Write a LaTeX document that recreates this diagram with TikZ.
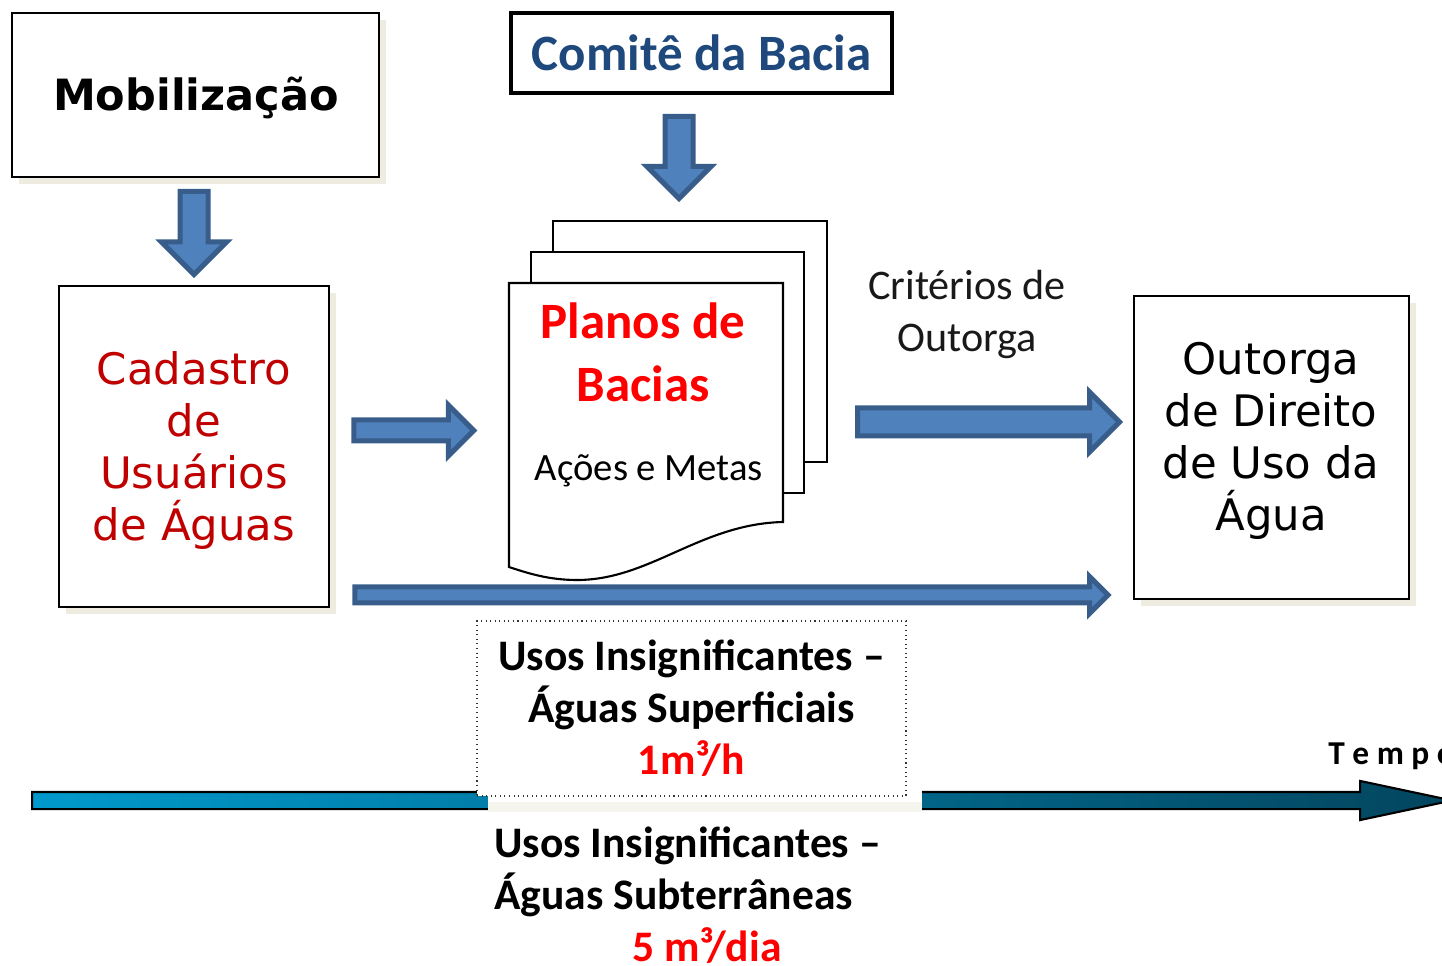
\documentclass[tikz,border=0pt]{standalone}
\usepackage{fontspec}
\setmainfont{Carlito}
\newfontfamily\verd{DejaVu Sans}
\usetikzlibrary{shapes.arrows,shadows}
\definecolor{arrowblue}{HTML}{4F81BD}
\definecolor{arrowedge}{HTML}{385D8A}
\definecolor{shadowbeige}{HTML}{EEECE1}
\definecolor{cadred}{HTML}{C00000}
\definecolor{comblue}{HTML}{1F497D}
\definecolor{timelight}{HTML}{0099CC}
\definecolor{timedark}{HTML}{03455E}

\begin{document}
\begin{tikzpicture}[x=0.2mm,y=-0.2mm,
  box/.style={draw,line width=1.5pt,fill=white,inner sep=0pt},
  shadowbox/.style={box,drop shadow={shadow xshift=1.4mm,shadow yshift=-1.4mm,fill=shadowbeige,opacity=1}},
  blockarrow/.style={single arrow,draw=arrowedge,fill=arrowblue,line width=1mm,inner xsep=0pt,minimum width=0pt,single arrow tip angle=90},
  page/.style={draw,line width=1.2pt,fill=white}]
  \useasboundingbox (0,0) rectangle (1442,966);

  % top row
  \node[shadowbox,minimum width=73.4mm,minimum height=32.8mm] (mob) at (195.5,95) {};
  \node[font=\verd\bfseries\fontsize{24.5}{30}\selectfont] (mobtxt) at (196,97.5) {Mobilização};
  \node[box,line width=2pt,minimum width=76.2mm,minimum height=16mm,text=comblue,font=\bfseries\fontsize{29}{35}\selectfont] (com) at (701.5,53) {Comitê da Bacia};

  % boxes
  \node[shadowbox,minimum width=54mm,minimum height=64.2mm] (cad) at (194,446.5) {};
  \node[align=center,text=cadred,font=\verd\fontsize{24.7}{29.5}\selectfont] (cadtxt) at (194,450.5) {Cadastro\\de\\Usuários\\de Águas};
  \node[shadowbox,minimum width=55mm,minimum height=60.6mm] (out) at (1271.5,447.5) {};
  \node[align=center,font=\verd\fontsize{24.7}{29.5}\selectfont] (outtxt) at (1271,441) {Outorga\\de Direito\\de Uso da\\Água};

  % stack of plans
  \draw[page] (553,221) rectangle (827,462);
  \draw[page] (531,252) rectangle (804,493);
  \draw[page] (509,283) -- (783,283) -- (783,522) .. controls (700,524) and (650,580) .. (577,580)
    .. controls (550,580) and (530,574) .. (509,567) -- cycle;
  \node[align=center,text=red,font=\bfseries\fontsize{29}{35.7}\selectfont] (plan) at (643,352) {Planos de\\Bacias};
  \node[font=\fontsize{22}{26}\selectfont] (acoes) at (649,471) {Ações e Metas};

  \node[align=center,text=black!90,font=\fontsize{24}{30}\selectfont] (crit) at (967,314.5) {Critérios de\\Outorga};

  % block arrows
  \node[blockarrow,rotate=-90,inner ysep=2.3mm,single arrow head extend=3.7mm,minimum height=16.6mm] (mobarrow) at (194,226) {};
  \node[blockarrow,rotate=-90,inner ysep=2.3mm,single arrow head extend=3.6mm,minimum height=16.4mm] (comarrow) at (679,150.5) {};
  \node[blockarrow,inner ysep=1.6mm,single arrow head extend=3mm,minimum height=24mm] (cadarrow) at (408.5,430.5) {};
  \node[blockarrow,inner ysep=2.3mm,single arrow head extend=3.2mm,minimum height=52.4mm] (critarrow) at (981.5,422) {};
  \node[blockarrow,inner ysep=1.1mm,single arrow head extend=2.1mm,minimum height=150.6mm] (longarrow) at (727.5,595) {};

  % time line
  \node[single arrow,draw,line width=1.2pt,left color=timelight,right color=timedark,inner xsep=0pt,inner ysep=1.5mm,
    single arrow head extend=2.2mm,single arrow tip angle=24,minimum width=0pt,minimum height=284mm] (time) at (722,800.5) {};
  \fill[white] (488,790) rectangle (922,814);
  \fill[shadowbeige!60] (488,802) rectangle (922,812);
  \node[anchor=base west,inner sep=0pt,font=\bfseries\fontsize{19}{22}\selectfont] (tempo) at (1328,765) {T e m p o};

  % insignificant uses
  \node[draw=black!80,dotted,line width=0.6pt,fill=white,minimum width=85.8mm,minimum height=35mm,inner sep=0pt,
    align=center,font=\bfseries\fontsize{24.8}{29.5}\selectfont] (superf) at (691.5,708.5) {Usos Insignificantes –\\Águas Superficiais\\\textcolor{red}{1m³/h}};
  \node[anchor=west,inner sep=0pt,align=left,font=\bfseries\fontsize{24.8}{29.5}\selectfont] (subt) at (494,895.5)
    {Usos Insignificantes –\\Águas Subterrâneas\\\hspace*{27.6mm}\textcolor{red}{5 m³/dia}};
\end{tikzpicture}
\end{document}
